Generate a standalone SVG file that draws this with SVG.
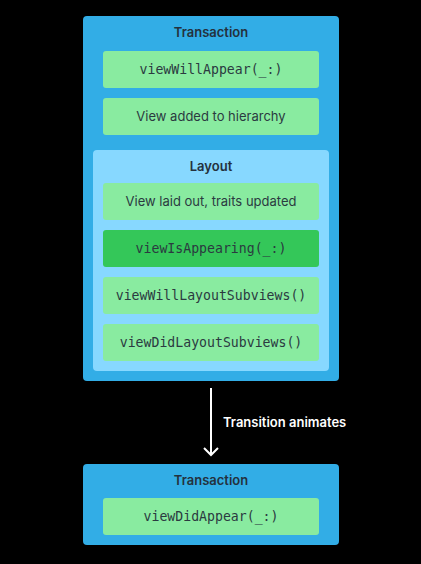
<svg xmlns="http://www.w3.org/2000/svg" width="421" height="564" viewBox="0 0 421 564">
<defs>
<style>
.outer{fill:#32ADE6}
.layout{fill:#87D8FF}
.step{fill:#89EBA0}
.key{fill:#34C759}
.title{font-family:Inter,"Liberation Sans",sans-serif;font-weight:600;font-size:13px;fill:#24313d;text-anchor:middle}
.lbl{font-family:Inter,"Liberation Sans",sans-serif;font-size:13px;fill:#2b3a40;text-anchor:middle}
.mono{font-family:"DejaVu Sans Mono","Liberation Mono",monospace;font-size:13.2px;fill:#2b3a40;text-anchor:middle}
.edge{stroke:#ffffff;stroke-width:2;fill:none}
.elbl{font-family:Inter,"Liberation Sans",sans-serif;font-weight:600;font-size:13px;fill:#ffffff}
</style>
</defs>
<rect width="421" height="564" fill="#000000"/>
<g id="transaction1">
<rect class="outer" x="83" y="16" width="256" height="365" rx="4"/>
<text class="title" x="211" y="37">Transaction</text>
</g>
<g id="viewWillAppear">
<rect class="step" x="103" y="51" width="216" height="37" rx="3"/>
<text class="mono" x="211" y="74">viewWillAppear(_:)</text>
</g>
<g id="viewAdded">
<rect class="step" x="103" y="98" width="216" height="37" rx="3"/>
<text class="lbl" x="211" y="121">View added to hierarchy</text>
</g>
<g id="layout">
<rect class="layout" x="93" y="150" width="236" height="221" rx="4"/>
<text class="title" x="211" y="171">Layout</text>
</g>
<g id="viewLaidOut">
<rect class="step" x="103" y="183" width="216" height="37" rx="3"/>
<text class="lbl" x="211" y="206">View laid out, traits updated</text>
</g>
<g id="viewIsAppearing">
<rect class="key" x="103" y="230" width="216" height="37" rx="3"/>
<text class="mono" x="211" y="253">viewIsAppearing(_:)</text>
</g>
<g id="viewWillLayoutSubviews">
<rect class="step" x="103" y="277" width="216" height="37" rx="3"/>
<text class="mono" x="211" y="300">viewWillLayoutSubviews()</text>
</g>
<g id="viewDidLayoutSubviews">
<rect class="step" x="103" y="324" width="216" height="37" rx="3"/>
<text class="mono" x="211" y="347">viewDidLayoutSubviews()</text>
</g>
<g id="transaction2">
<rect class="outer" x="83" y="464" width="256" height="81" rx="4"/>
<text class="title" x="211" y="485">Transaction</text>
</g>
<g id="viewDidAppear">
<rect class="step" x="103" y="498" width="216" height="37" rx="3"/>
<text class="mono" x="211" y="521">viewDidAppear(_:)</text>
</g>
<g id="connectors">
<line class="edge" x1="211" y1="388" x2="211" y2="455"/>
<polyline class="edge" points="204,448 211,455 218,448"/>
<text class="elbl" x="223" y="427">Transition animates</text>
</g>
</svg>
